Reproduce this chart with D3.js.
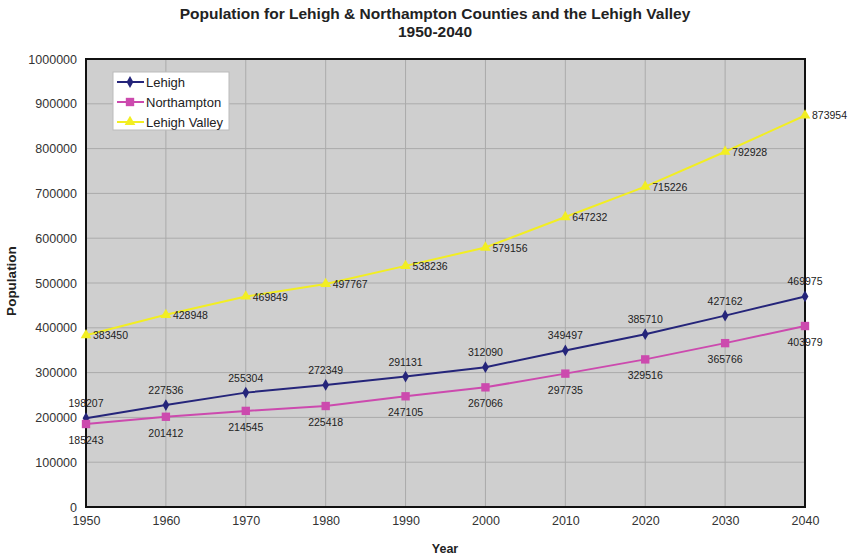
<!DOCTYPE html>
<html>
<head>
<meta charset="utf-8">
<script src="https://cdn.jsdelivr.net/npm/d3@7"></script>
<style>
  body { margin: 0; background: #fff; }
  text { font-family: Arial, "Liberation Sans", sans-serif; }
</style>
</head>
<body>
<svg id="chart" width="850" height="557"></svg>
<script>
const years = [1950, 1960, 1970, 1980, 1990, 2000, 2010, 2020, 2030, 2040];
const lehigh = [198207, 227536, 255304, 272349, 291131, 312090, 349497, 385710, 427162, 469975];
const northampton = [185243, 201412, 214545, 225418, 247105, 267066, 297735, 329516, 365766, 403979];
const lehighValley = [383450, 428948, 469849, 497767, 538236, 579156, 647232, 715226, 792928, 873954];
const yTicks = [0, 100000, 200000, 300000, 400000, 500000, 600000, 700000, 800000, 900000, 1000000];

const series = [
  { name: "Lehigh", values: lehigh, color: "#25257a", symbol: d3.symbolDiamond, size: 40, label: "above" },
  { name: "Northampton", values: northampton, color: "#cc4aae", symbol: d3.symbolSquare, size: 70, label: "below" },
  { name: "Lehigh Valley", values: lehighValley, color: "#f2ee22", symbol: d3.symbolTriangle, size: 50, label: "right" }
];

const svg = d3.select("#chart");
const margin = { top: 59, right: 45, bottom: 50, left: 86 };
const width = 850 - margin.left - margin.right;
const height = 557 - margin.top - margin.bottom;

const x = d3.scaleLinear().domain([1950, 2040]).range([0, width]);
const y = d3.scaleLinear().domain([0, 1000000]).range([height, 0]);

// title
svg.append("text")
  .attr("x", 435).attr("y", 19)
  .attr("text-anchor", "middle")
  .attr("font-size", 15.5).attr("font-weight", "bold")
  .attr("fill", "#222")
  .text("Population for Lehigh & Northampton Counties and the Lehigh Valley");
svg.append("text")
  .attr("x", 435).attr("y", 37)
  .attr("text-anchor", "middle")
  .attr("font-size", 15.5).attr("font-weight", "bold")
  .attr("fill", "#222")
  .text("1950-2040");

const g = svg.append("g").attr("transform", `translate(${margin.left},${margin.top})`);

g.append("rect")
  .attr("width", width).attr("height", height)
  .attr("fill", "#cfcfcf");

// grid
g.append("g").selectAll("line")
  .data(yTicks)
  .join("line")
  .attr("x1", 0).attr("x2", width)
  .attr("y1", d => y(d)).attr("y2", d => y(d))
  .attr("stroke", "#ababab").attr("stroke-width", 1);
g.append("g").selectAll("line")
  .data(years)
  .join("line")
  .attr("y1", 0).attr("y2", height)
  .attr("x1", d => x(d)).attr("x2", d => x(d))
  .attr("stroke", "#ababab").attr("stroke-width", 1);

// frame
g.append("rect")
  .attr("width", width).attr("height", height)
  .attr("fill", "none").attr("stroke", "#111").attr("stroke-width", 2);

// axes
const yAxis = g.append("g")
  .call(d3.axisLeft(y).tickValues(yTicks).tickSize(0).tickPadding(9).tickFormat(d3.format("d")));
yAxis.select(".domain").remove();
yAxis.selectAll("text").attr("font-size", 12.5).attr("fill", "#333");

const xAxis = g.append("g")
  .attr("transform", `translate(0,${height})`)
  .call(d3.axisBottom(x).tickValues(years).tickSize(0).tickPadding(9).tickFormat(d3.format("d")));
xAxis.select(".domain").remove();
xAxis.selectAll("text").attr("font-size", 12.5).attr("fill", "#333");

svg.append("text")
  .attr("x", 445).attr("y", 553)
  .attr("text-anchor", "middle")
  .attr("font-size", 12.5).attr("font-weight", "bold")
  .attr("fill", "#222")
  .text("Year");
svg.append("text")
  .attr("transform", "translate(16,281) rotate(-90)")
  .attr("text-anchor", "middle")
  .attr("font-size", 13.5).attr("font-weight", "bold")
  .attr("fill", "#222")
  .text("Population");

// lines
const line = d3.line()
  .x((d, i) => x(years[i]))
  .y(d => y(d));

series.forEach(s => {
  g.append("path")
    .datum(s.values)
    .attr("fill", "none")
    .attr("stroke", s.color)
    .attr("stroke-width", 2)
    .attr("d", line);

  g.append("g").selectAll("path")
    .data(s.values)
    .join("path")
    .attr("transform", (d, i) => `translate(${x(years[i])},${y(d)})`)
    .attr("d", d3.symbol().type(s.symbol).size(s.size))
    .attr("fill", s.color);

  g.append("g").selectAll("text")
    .data(s.values)
    .join("text")
    .attr("font-size", 10.5)
    .attr("fill", "#222")
    .attr("x", (d, i) => x(years[i]) + (s.label === "right" ? 7 : 0))
    .attr("y", d => y(d) + (s.label === "above" ? -11 : s.label === "below" ? 20 : 4))
    .attr("text-anchor", s.label === "right" ? "start" : "middle")
    .text(d => d);
});

// legend
const legend = svg.append("g").attr("transform", "translate(113,72)");
legend.append("rect")
  .attr("width", 116).attr("height", 58)
  .attr("fill", "#fff").attr("stroke", "#bbb");
series.forEach((s, i) => {
  const row = legend.append("g").attr("transform", `translate(0,${10 + i * 20})`);
  row.append("line")
    .attr("x1", 4).attr("x2", 31)
    .attr("stroke", s.color).attr("stroke-width", 2);
  row.append("path")
    .attr("transform", "translate(17,0)")
    .attr("d", d3.symbol().type(s.symbol).size(s.size))
    .attr("fill", s.color);
  row.append("text")
    .attr("x", 33).attr("y", 5)
    .attr("font-size", 13).attr("fill", "#222")
    .text(s.name);
});
</script>
</body>
</html>
